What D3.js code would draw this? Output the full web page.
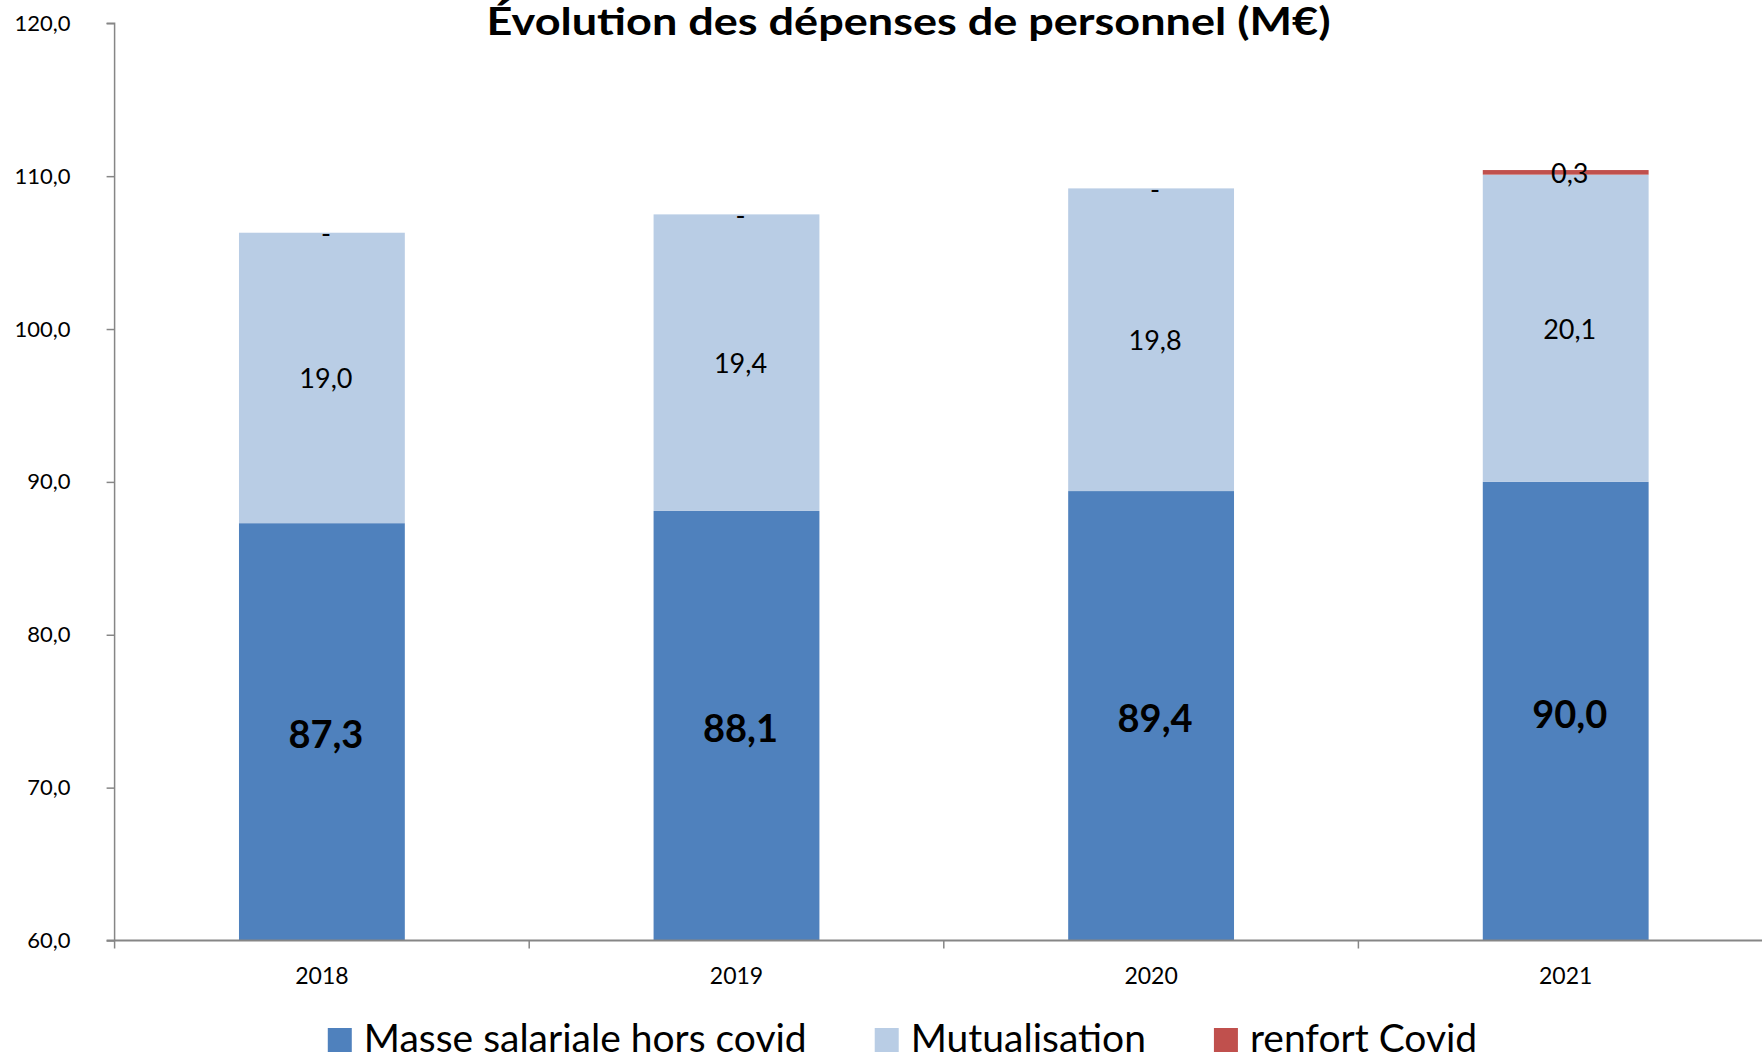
<!DOCTYPE html>
<html><head><meta charset="utf-8">
<script src="https://cdn.jsdelivr.net/npm/d3@7"></script>
<style>body{margin:0;background:#fff}svg{display:block}text{font-family:Lato,"Noto Sans",sans-serif}</style>
</head><body><svg id="c" width="1762" height="1058"></svg>
<script>
const title = "Évolution des dépenses de personnel (M€)";
const years = ["2018", "2019", "2020", "2021"];
const seriesNames = ["Masse salariale hors covid", "Mutualisation", "renfort Covid"];
const masse = [87.3, 88.1, 89.4, 90.0];
const mutualisation = [19.0, 19.4, 19.8, 20.1];
const renfort = [0, 0, 0, 0.3];
const colors = ["#4F81BD", "#B9CDE5", "#C0504D"];
const yTicks = [60, 70, 80, 90, 100, 110, 120];

const svg = d3.select("#c");
const W = 1762, H = 1058;
const m = {left: 114.6, right: 1773, top: 23.3, bottom: 940.5};
const x = d3.scaleBand().domain(years).range([m.left, m.right]).paddingInner(0.6).paddingOuter(0.3);
const y = d3.scaleLinear().domain([60, 120]).range([m.bottom, m.top]);
const yMin = y.domain()[0];
const fmt = v => v === 0 ? "-" : d3.format(".1f")(v).replace(".", ",");

const rows = years.map((yr, i) => ({year: yr, s0: masse[i], s1: mutualisation[i], s2: renfort[i]}));
const stacked = d3.stack().keys(["s0", "s1", "s2"])(rows);

const gBars = svg.append("g");
stacked.forEach((ser, si) => {
  gBars.selectAll(null).data(ser).join("rect")
    .attr("x", d => x(d.data.year))
    .attr("width", x.bandwidth())
    .attr("y", d => y(Math.max(d[1], yMin)))
    .attr("height", d => Math.max(0, y(Math.max(d[0], yMin)) - y(Math.max(d[1], yMin))))
    .attr("fill", colors[si]);
});

// axes
const axisColor = "#868686";
const yAxis = svg.append("g").attr("transform", `translate(${m.left},0)`)
  .call(d3.axisLeft(y).tickValues(yTicks).tickSize(8).tickPadding(36).tickFormat(d => d3.format(".1f")(d).replace(".", ",")));
yAxis.select(".domain").attr("stroke", axisColor).attr("stroke-width", 1.5).attr("d", `M-8,${m.top}H0V${m.bottom}`);
yAxis.selectAll(".tick line").attr("stroke", axisColor).attr("stroke-width", 1.5);
yAxis.selectAll(".tick text").attr("font-size", 22).attr("fill", "#000").attr("font-family", "Lato");

const xg = svg.append("g").attr("transform", `translate(0,${m.bottom})`);
xg.append("line").attr("x1", m.left - 8).attr("x2", W).attr("y1", 0).attr("y2", 0).attr("stroke", axisColor).attr("stroke-width", 2);
const step = x.step();
xg.selectAll(null).data(d3.range(years.length + 1)).join("line")
  .attr("x1", i => m.left + i * step).attr("x2", i => m.left + i * step)
  .attr("y1", 0).attr("y2", 8).attr("stroke", axisColor).attr("stroke-width", 1.5);
xg.selectAll(null).data(years).join("text")
  .attr("x", d => x(d) + x.bandwidth() / 2).attr("y", 43)
  .attr("text-anchor", "middle").attr("font-size", 23).text(d => d);

// data labels (centred on the visible part of each segment)
const lab = svg.append("g");
stacked.forEach((ser, si) => {
  lab.selectAll(null).data(ser).join("text")
    .attr("x", d => x(d.data.year) + x.bandwidth() / 2 + 4)
    .attr("y", d => y((Math.max(d[0], yMin) + d[1]) / 2) + (si === 0 ? 3 : 1))
    .attr("dy", "0.35em")
    .attr("text-anchor", "middle")
    .attr("font-size", si === 0 ? 38 : 27)
    .attr("font-weight", si === 0 ? 700 : 400)
    .text(d => fmt(d[1] - d[0]));
});

// title
svg.append("text").attr("x", 908.5).attr("y", 35).attr("text-anchor", "middle")
  .attr("font-size", 38).attr("font-weight", 700)
  .attr("textLength", 844).attr("lengthAdjust", "spacingAndGlyphs").text(title);

// legend
const leg = svg.append("g");
const items = seriesNames.map((n, i) => {
  const g = leg.append("g");
  g.append("rect").attr("width", 24).attr("height", 24).attr("y", -24).attr("fill", colors[i]);
  const t = g.append("text").attr("x", 36).attr("y", 0).attr("font-size", 39).text(n);
  return {g, w: 36 + t.node().getComputedTextLength()};
});
const gap = 68;
const total = d3.sum(items, d => d.w) + gap * (items.length - 1);
let cx = 902.5 - total / 2;
items.forEach(it => { it.g.attr("transform", `translate(${cx},1052)`); cx += it.w + gap; });
</script></body></html>
